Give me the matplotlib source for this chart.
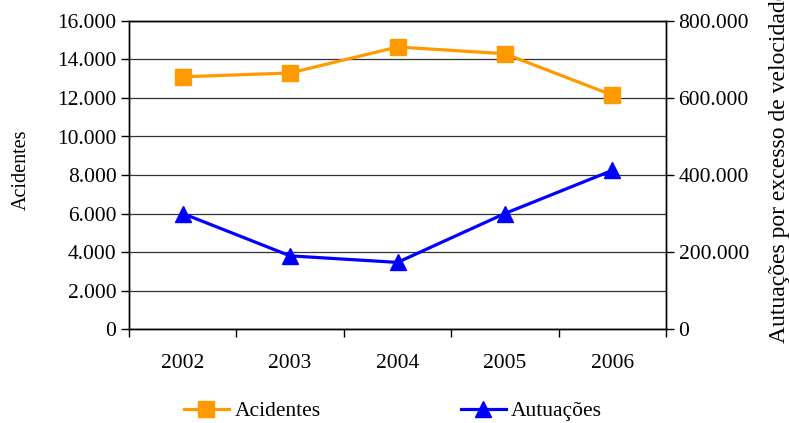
import matplotlib.pyplot as plt
from matplotlib.ticker import FuncFormatter, FixedLocator
import numpy as np

plt.rcParams['font.family'] = ['Liberation Serif', 'DejaVu Serif']

# data
years = ['2002', '2003', '2004', '2005', '2006']
acidentes = [13100, 13300, 14650, 14300, 12150]
autuacoes = [300000, 190000, 173000, 300000, 412000]

FS = 15.5


def dot_thousands(v, pos=None):
    return '{:,.0f}'.format(v).replace(',', '.')


fig = plt.figure(figsize=(7.89, 4.23), dpi=100)
ax = fig.add_axes([129 / 789, 1 - 329 / 423, (666 - 129) / 789, (329 - 21) / 423])
ax2 = ax.twinx()

x = np.arange(len(years))
l1, = ax.plot(x, acidentes, color='#FF9900', lw=2.3, marker='s', ms=11,
              label='Acidentes', zorder=3)
l2, = ax2.plot(x, autuacoes, color='#0000FF', lw=2.3, marker='^', ms=12,
               label='Autuações', zorder=3)

ax.set_xlim(-0.5, 4.5)
ax.set_ylim(0, 16000)
ax2.set_ylim(0, 800000)
ax.set_yticks(np.arange(0, 16001, 2000))
ax2.set_yticks(np.arange(0, 800001, 200000))
ax.yaxis.set_major_formatter(FuncFormatter(dot_thousands))
ax2.yaxis.set_major_formatter(FuncFormatter(dot_thousands))

ax.set_xticks(x)
ax.set_xticklabels(years)
ax.xaxis.set_minor_locator(FixedLocator(np.arange(-0.5, 5, 1)))
ax.tick_params(axis='x', which='major', length=0, pad=18, labelsize=FS)
ax.tick_params(axis='x', which='minor', length=6, width=1, direction='out')
ax.tick_params(axis='y', length=6, width=1, direction='out', labelsize=FS, pad=3)
ax2.tick_params(axis='y', length=6, width=1, direction='out', labelsize=FS, pad=3)

ax.grid(axis='y', color='#333333', lw=0.9)
ax.set_axisbelow(True)
for a in (ax, ax2):
    for s in a.spines.values():
        s.set_color('black')
        s.set_linewidth(1)

fig.text(21 / 789, 1 - 170 / 423, 'Acidentes', rotation=90, ha='center',
         va='center', fontsize=14.5)
fig.text(779 / 789, 1 - 343 / 423, 'Autuações por excesso de velocidade',
         rotation=90, ha='center', va='bottom', fontsize=17)

fig.legend(handles=[l1, l2], loc='center', bbox_to_anchor=(393 / 789, 1 - 411 / 423),
           ncol=2, frameon=False, fontsize=FS, columnspacing=6.5,
           handlelength=2.1, handletextpad=0.25)

fig.savefig('out.png', dpi=100)
